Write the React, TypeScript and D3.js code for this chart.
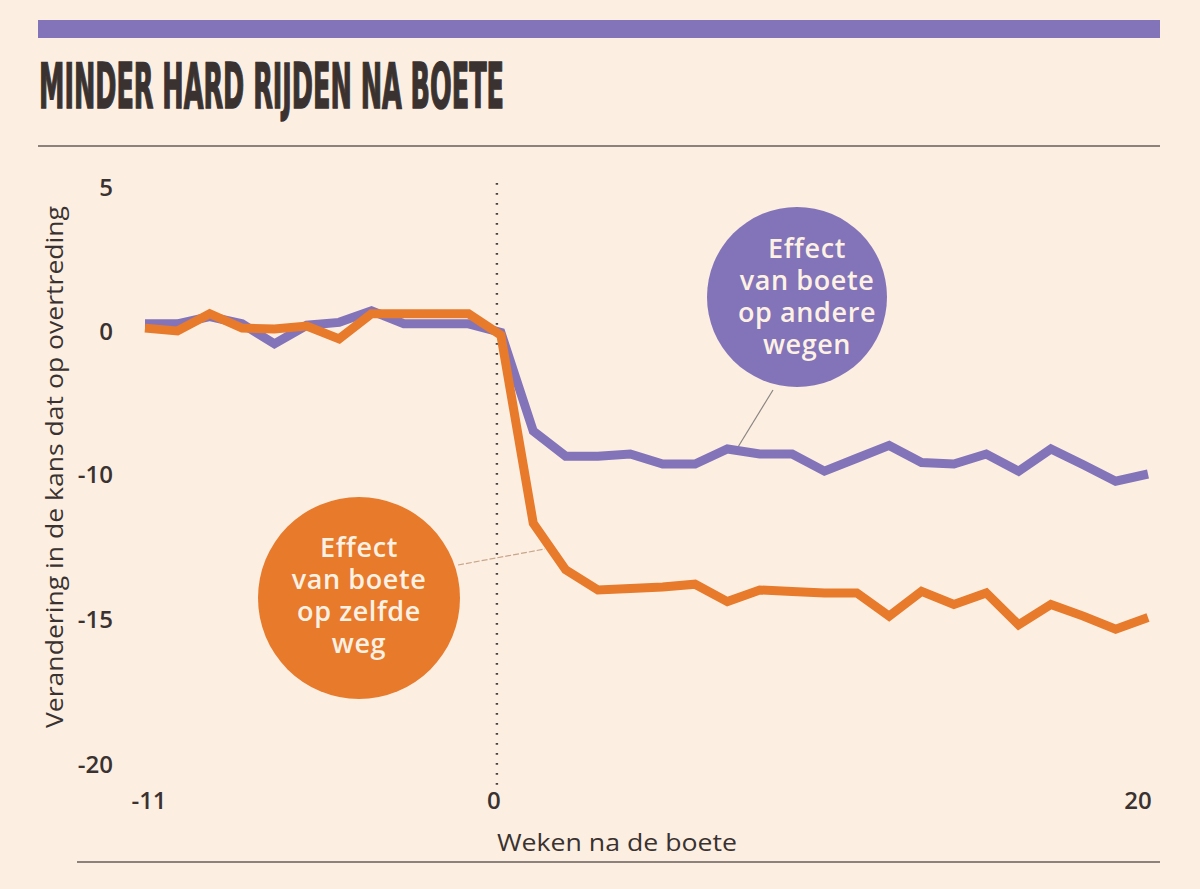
import React, { useEffect, useRef } from 'react';
import * as d3 from 'd3';

// weeks relative to the fine
const weeks = [-11, -10, -9, -8, -7, -6, -5, -4, -3, -2, -1, 0, 1, 2, 3, 4, 5, 6, 7, 8, 9, 10, 11, 12, 13, 14, 15, 16, 17, 18, 19, 20];

// effect on other roads (purple)
const otherRoads = [0.25, 0.25, 0.5, 0.25, -0.9, 0.2, 0.3, 0.7, 0.25, 0.25, 0.25, -0.1,
    -7.0, -8.75, -8.75, -8.6, -9.3, -9.3, -8.25, -8.6, -8.6, -9.8, -8.9, -8.0, -9.2, -9.3, -8.6, -9.8, -8.25, -9.35, -10.25, -10.0];

// effect on the same road (orange)
const sameRoad = [0.1, 0.0, 0.6, 0.1, 0.07, 0.17, -0.55, 0.6, 0.6, 0.6, 0.6, -0.3,
    -11.7, -13.3, -14.0, -13.95, -13.9, -13.8, -14.4, -14.0, -14.05, -14.1, -14.1, -14.9, -14.05, -14.5, -14.1, -15.2, -14.5, -14.9, -15.35, -14.95];

const yTicks = [5, 0, -10, -15, -20];
const xTicks = [-11, 0, 20];

const title = 'MINDER HARD RIJDEN NA BOETE';
const yTitle = 'Verandering in de kans dat op overtreding';
const xTitle = 'Weken na de boete';
const purpleLabel = ['Effect', 'van boete', 'op andere', 'wegen'];
const orangeLabel = ['Effect', 'van boete', 'op zelfde', 'weg'];

const W = 1200;
const H = 889;
const BG = '#fcefe2';
const PURPLE = '#8373b9';
const ORANGE = '#e77a2b';
const INK = '#3a3230';
const FONT = '"Open Sans", "Noto Sans", sans-serif';

function App() {
    const ref = useRef<SVGSVGElement>(null);

    useEffect(() => {
        const svg = d3.select(ref.current);
        svg.selectAll('*').remove();

        // the original axis has uneven steps (0 -> -10 takes the same room as 5 -> 0)
        const x = d3.scaleLinear().domain([-11, 20]).range([145, 1148]);
        const y = d3.scaleLinear().domain(yTicks).range([187, 331, 474, 619, 764]);

        svg.append('rect').attr('width', W).attr('height', H).attr('fill', BG);

        // header
        svg.append('rect').attr('x', 38).attr('y', 20).attr('width', 1122).attr('height', 18).attr('fill', PURPLE);
        svg.append('text')
            .attr('x', 39).attr('y', 108)
            .attr('textLength', 465).attr('lengthAdjust', 'spacingAndGlyphs')
            .style('font-family', '"Liberation Sans Narrow", "DejaVu Sans", sans-serif')
            .style('font-stretch', 'condensed')
            .style('font-weight', 'bold').style('font-size', '63px')
            .attr('fill', INK)
            .attr('stroke', INK).attr('stroke-width', 1.6)
            .text(title);
        svg.append('line').attr('x1', 38).attr('x2', 1160).attr('y1', 146).attr('y2', 146)
            .attr('stroke', '#8c827b').attr('stroke-width', 2);
        svg.append('line').attr('x1', 77).attr('x2', 1160).attr('y1', 862).attr('y2', 862)
            .attr('stroke', '#8c827b').attr('stroke-width', 2);

        // zero week marker
        svg.append('line')
            .attr('x1', x(0) - 4).attr('x2', x(0) - 4).attr('y1', 183).attr('y2', 792)
            .attr('stroke', '#4a4442').attr('stroke-width', 2.4)
            .attr('stroke-dasharray', '1.8,8.2');

        // y ticks
        svg.append('g').selectAll('text')
            .data(yTicks)
            .join('text')
            .attr('x', 113).attr('y', (d) => y(d))
            .attr('dy', '0.36em')
            .attr('text-anchor', 'end')
            .style('font-family', FONT).style('font-size', '24px').style('font-weight', 600)
            .attr('fill', INK)
            .text((d) => String(d));

        // x ticks
        svg.append('g').selectAll('text')
            .data(xTicks)
            .join('text')
            .attr('x', (d) => x(d) + (d === 20 ? -10 : d === 0 ? -7 : 4))
            .attr('y', 809)
            .attr('text-anchor', 'middle')
            .style('font-family', FONT).style('font-size', '24px').style('font-weight', 600)
            .attr('fill', INK)
            .text((d) => String(d));

        // axis titles
        svg.append('text')
            .attr('transform', 'translate(63, 467) rotate(-90)')
            .attr('text-anchor', 'middle')
            .attr('textLength', 522).attr('lengthAdjust', 'spacingAndGlyphs')
            .style('font-family', FONT).style('font-size', '24px')
            .attr('fill', INK)
            .text(yTitle);
        svg.append('text')
            .attr('x', 617).attr('y', 851)
            .attr('text-anchor', 'middle')
            .attr('textLength', 240).attr('lengthAdjust', 'spacingAndGlyphs')
            .style('font-family', FONT).style('font-size', '24px')
            .attr('fill', INK)
            .text(xTitle);

        // leader lines
        svg.append('line').attr('x1', 773).attr('y1', 390).attr('x2', 738).attr('y2', 447)
            .attr('stroke', '#8a8482').attr('stroke-width', 1.2);
        svg.append('line').attr('x1', 458).attr('y1', 565).attr('x2', 545).attr('y2', 549)
            .attr('stroke', '#c9a58a').attr('stroke-width', 1.2).attr('stroke-dasharray', '6,2');

        const line = d3.line<number>()
            .x((_, i) => x(weeks[i]))
            .y((d) => y(d));

        svg.append('path')
            .datum(otherRoads)
            .attr('d', line)
            .attr('fill', 'none')
            .attr('stroke', PURPLE)
            .attr('stroke-width', 9)
            .attr('stroke-linejoin', 'miter');

        svg.append('path')
            .datum(sameRoad)
            .attr('d', line)
            .attr('fill', 'none')
            .attr('stroke', ORANGE)
            .attr('stroke-width', 9)
            .attr('stroke-linejoin', 'miter');

        // label bubbles
        const bubble = (cx: number, cy: number, r: number, fill: string, lines: string[], tx: number, y0: number) => {
            const g = svg.append('g');
            g.append('circle').attr('cx', cx).attr('cy', cy).attr('r', r).attr('fill', fill);
            g.selectAll('text')
                .data(lines)
                .join('text')
                .attr('x', tx)
                .attr('y', (_, i) => y0 + i * 32)
                .attr('text-anchor', 'middle')
                .style('font-family', FONT).style('font-size', '27px').style('font-weight', 600)
                .style('letter-spacing', '0.6px')
                .attr('fill', '#fdf1e4')
                .text((d) => d);
        };
        bubble(797, 297, 90, PURPLE, purpleLabel, 807, 258);
        bubble(359, 598, 101, ORANGE, orangeLabel, 359, 557);
    }, []);

    return (
        <svg ref={ref} width={W} height={H} style={{ position: 'absolute', left: 0, top: 0 }}></svg>
    );
}

export default App;
